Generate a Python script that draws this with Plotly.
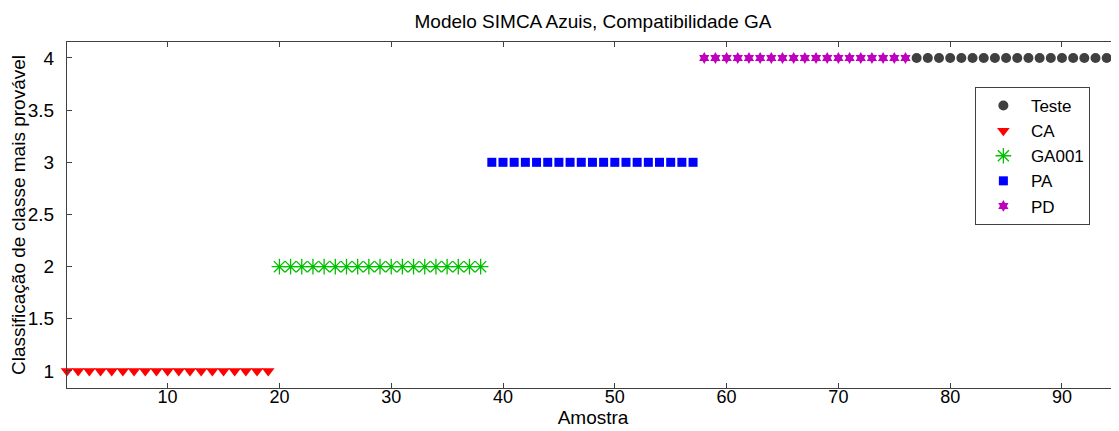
import plotly.graph_objects as go

# Amostras e classe mais provavel atribuida pelo modelo SIMCA
teste_x = list(range(77, 96))
teste_y = [4] * 19
ca_x = list(range(1, 20))
ca_y = [1] * 19
ga_x = list(range(20, 39))
ga_y = [2] * 19
pa_x = list(range(39, 58))
pa_y = [3] * 19
pd_x = list(range(58, 77))
pd_y = [4] * 19

x_ticks = [10, 20, 30, 40, 50, 60, 70, 80, 90]
y_ticks = [1, 1.5, 2, 2.5, 3, 3.5, 4]
y_labels = ["1", "1.5", "2", "2.5", "3", "3.5", "4"]

fig = go.Figure()

fig.add_trace(go.Scatter(x=teste_x, y=teste_y, mode="markers", name="Teste",
                         marker=dict(symbol="circle", size=10, color="#404040"), cliponaxis=False))
fig.add_trace(go.Scatter(x=ca_x, y=ca_y, mode="markers", name="CA",
                         marker=dict(symbol="triangle-down", size=11, color="#ff0000"), cliponaxis=False))
fig.add_trace(go.Scatter(x=ga_x, y=ga_y, mode="markers", name="GA001",
                         marker=dict(symbol="asterisk-open", size=13, color="#00c000",
                                     line=dict(width=1.3, color="#00c000")), cliponaxis=False))
fig.add_trace(go.Scatter(x=pa_x, y=pa_y, mode="markers", name="PA",
                         marker=dict(symbol="square", size=9, color="#0000ff"), cliponaxis=False))
fig.add_trace(go.Scatter(x=pd_x, y=pd_y, mode="markers", name="PD",
                         marker=dict(symbol="hexagram", size=9, color="#bf00bf"), cliponaxis=False))

# the page body adds an 8px margin, so the figure is 8px smaller than the window
fig.update_layout(
    width=1111, height=423,
    margin=dict(l=59, r=0, t=34, b=43),
    plot_bgcolor="white", paper_bgcolor="white",
    font=dict(family="Liberation Sans, Arial", size=19, color="black"),
    title=dict(text="Modelo SIMCA Azuis, Compatibilidade GA", x=0.5, xref="paper",
               y=0.968, yref="container", yanchor="middle", font=dict(size=19)),
    legend=dict(x=0.863, y=0.87, xanchor="left", yanchor="top", bgcolor="white",
                bordercolor="#404040", borderwidth=1, font=dict(size=17), itemwidth=45),
    xaxis=dict(range=[1, 95.1], tickvals=x_ticks, ticks="inside", ticklen=5, tickcolor="#404040",
               showline=True, linecolor="#404040", mirror="ticks", showgrid=False, zeroline=False,
               automargin=False, tickfont=dict(size=18), ticklabelstandoff=-8,
               title=dict(text="Amostra", standoff=5, font=dict(size=19))),
    yaxis=dict(range=[0.837, 4.153], tickvals=y_ticks, ticktext=y_labels, ticks="inside", ticklen=5,
               tickcolor="#404040", showline=True, linecolor="#404040", mirror="ticks",
               showgrid=False, zeroline=False, automargin=False, tickfont=dict(size=19),
               ticklabelstandoff=8,
               title=dict(text="Classificação de classe mais provável", standoff=2,
                          font=dict(size=19))),
)

fig.write_html("out.html")
